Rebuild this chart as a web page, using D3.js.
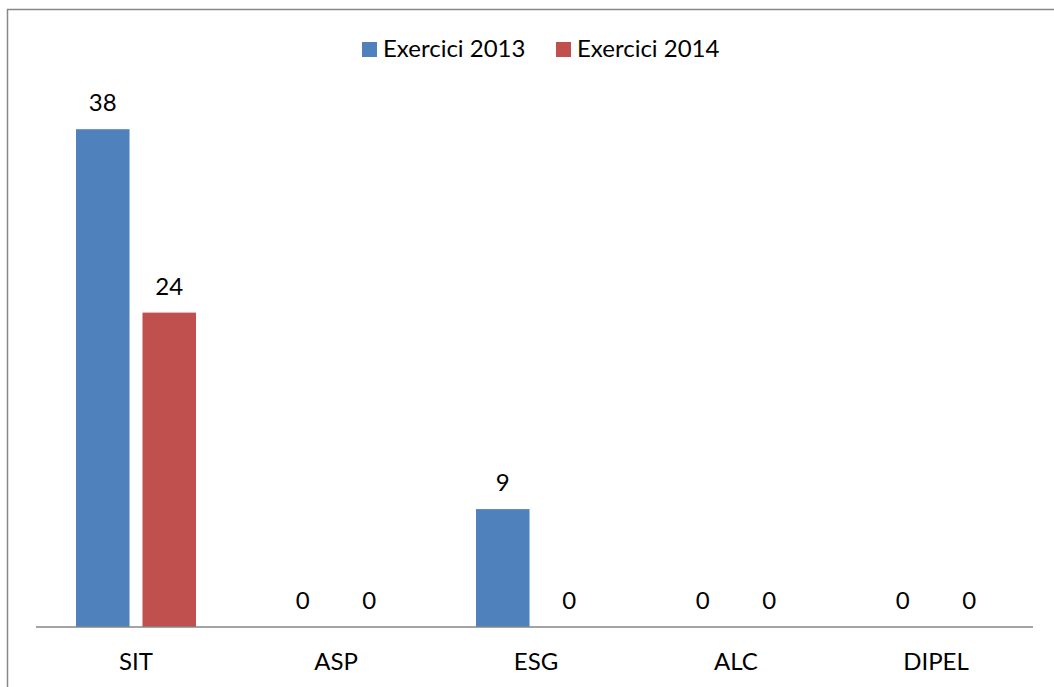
<!DOCTYPE html>
<html>
<head>
<meta charset="utf-8">
<script src="https://cdn.jsdelivr.net/npm/d3@7"></script>
<style>
  html, body { margin: 0; padding: 0; background: #fff; }
  svg { display: block; }
  text { font-family: Lato, "Liberation Sans", Arial, sans-serif; fill: #000; }
</style>
</head>
<body>
<svg id="chart" width="1054" height="687"></svg>
<script>
// Chart data
const categories = ["SIT", "ASP", "ESG", "ALC", "DIPEL"];
const seriesNames = ["Exercici 2013", "Exercici 2014"];
const values2013 = [38, 0, 9, 0, 0];
const values2014 = [24, 0, 0, 0, 0];
const colors = ["#4F81BD", "#C0504D"];

const seriesValues = [values2013, values2014];
const FONT = "Lato, Liberation Sans, Arial, sans-serif";
const FONT_SIZE = 24;

const svg = d3.select("#chart");

// Outer chart frame
svg.append("rect")
  .attr("x", 7.5).attr("y", 9.5)
  .attr("width", 1100).attr("height", 700)
  .attr("fill", "#fff")
  .attr("stroke", "#878787")
  .attr("stroke-width", 1.5);

const x0 = d3.scaleBand().domain(categories).range([36, 1036]).padding(0);
const x1 = d3.scaleBand().domain(seriesNames).range([40, 160]).paddingInner(0.195);
const y = d3.scaleLinear().domain([0, 40]).range([627, 103]);

const groups = svg.append("g")
  .selectAll("g")
  .data(categories)
  .join("g")
  .attr("transform", d => `translate(${x0(d)},0)`);

groups.selectAll("rect")
  .data((c, i) => seriesNames.map((s, j) => ({ s, j, v: seriesValues[j][i] })))
  .join("rect")
  .attr("x", d => x1(d.s))
  .attr("y", d => y(d.v))
  .attr("width", x1.bandwidth())
  .attr("height", d => y(0) - y(d.v))
  .attr("fill", d => colors[d.j]);

groups.selectAll("text.val")
  .data((c, i) => seriesNames.map((s, j) => ({ s, j, v: seriesValues[j][i] })))
  .join("text")
  .attr("class", "val")
  .attr("x", d => x1(d.s) + x1.bandwidth() / 2)
  .attr("y", d => y(d.v) - 18)
  .attr("text-anchor", "middle")
  .attr("font-size", FONT_SIZE)
  .text(d => d.v);

// Category axis
const xAxis = d3.axisBottom(x0).tickSize(0).tickPadding(26);
const axisG = svg.append("g")
  .attr("transform", `translate(0,${y(0)})`)
  .call(xAxis);
axisG.select(".domain")
  .attr("d", "M36,0H1033")
  .attr("stroke", "#868686")
  .attr("stroke-width", 1.5);
axisG.selectAll(".tick text")
  .attr("font-size", FONT_SIZE)
  .attr("font-family", FONT)
  .attr("fill", "#000")
  .attr("dy", "0.71em");

// Legend
const legendItems = [
  { name: seriesNames[0], color: colors[0], x: 362 },
  { name: seriesNames[1], color: colors[1], x: 556 }
];
const legend = svg.append("g");
legendItems.forEach(it => {
  legend.append("rect")
    .attr("x", it.x).attr("y", 42)
    .attr("width", 15).attr("height", 15)
    .attr("fill", it.color);
  legend.append("text")
    .attr("x", it.x + 21).attr("y", 57)
    .attr("font-size", FONT_SIZE)
    .text(it.name);
});
</script>
</body>
</html>
